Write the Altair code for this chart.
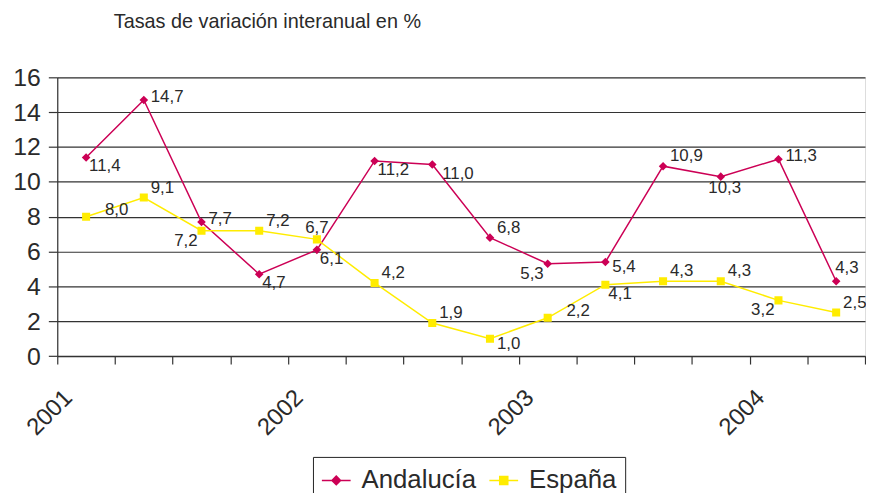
import json
import altair as alt
import pandas as pd

# ---------------- data ----------------
series_names = ["Andalucía", "España"]
andalucia = [11.4, 14.7, 7.7, 4.7, 6.1, 11.2, 11.0, 6.8, 5.3, 5.4, 10.9, 10.3, 11.3, 4.3]
espana = [8.0, 9.1, 7.2, 7.2, 6.7, 4.2, 1.9, 1.0, 2.2, 4.1, 4.3, 4.3, 3.2, 2.5]
x_tick_labels = ["2001", "", "", "", "2002", "", "", "", "2003", "", "", "", "2004", "", ""]
y_ticks = [0, 2, 4, 6, 8, 10, 12, 14, 16]
title_text = "Tasas de variación interanual en %"

# label placement codes (relative to each point)
and_label_pos = ["br", "r", "r", "br", "br", "br", "br2", "ar", "bl", "rb", "ar", "b", "r", "al"]
esp_label_pos = ["far", "ar", "bl", "ar", "a", "ar", "ar", "rb", "far", "br", "ar", "ar", "bl", "ar"]

# ---------------- styles ----------------
series_colors = ["#CC0055", "#FFEC00"]
marker_paths = [
    "M-1,0H1M0,-0.3L0.3,0L0,0.3L-0.3,0Z",
    "M-1,0H1M-0.28,-0.28H0.28V0.28H-0.28Z",
]
placements = {
    "r": dict(align="left", dx=7, dy=-3),
    "rb": dict(align="left", dx=7, dy=5),
    "br": dict(align="left", dx=3, dy=9),
    "br2": dict(align="left", dx=10, dy=10),
    "ar": dict(align="left", dx=7, dy=-10),
    "bl": dict(align="right", dx=-4, dy=10),
    "al": dict(align="left", dx=-1, dy=-13),
    "b": dict(align="center", dx=4, dy=12),
    "a": dict(align="center", dx=0, dy=-11),
    "far": dict(align="left", dx=19, dy=-7),
}
FONT = "Liberation Sans"
TXT = "#2a2a2a"

rows = []
for name, vals, pos in [(series_names[0], andalucia, and_label_pos),
                        (series_names[1], espana, esp_label_pos)]:
    for i, v in enumerate(vals):
        rows.append({"serie": name, "idx": i, "value": v,
                     "label": f"{v:.1f}".replace(".", ","), "place": pos[i]})
df = pd.DataFrame(rows)

base = alt.Chart(df).transform_calculate(pos="datum.idx + 0.5")

x_enc = alt.X(
    "pos:Q",
    scale=alt.Scale(domain=[0, len(andalucia)], nice=False, zero=False),
    axis=alt.Axis(
        values=list(range(len(x_tick_labels))),
        labelExpr=json.dumps(x_tick_labels) + "[datum.value]",
        title=None, grid=False, tickSize=8, tickColor="#333", domainColor="#333",
        tickWidth=1.2, domainWidth=1.2,
        labelAngle=315, labelAlign="right", labelBaseline="middle",
        labelOffset=11, labelPadding=30, labelFontSize=24, labelFont=FONT,
        labelColor=TXT, labelFlush=False, labelOverlap=False, labelBound=False,
    ),
)
y_enc = alt.Y(
    "value:Q",
    scale=alt.Scale(domain=[0, 16], nice=False, zero=True),
    axis=alt.Axis(
        values=y_ticks, title=None, grid=True, gridColor="#333", gridWidth=1.2,
        tickSize=9, tickColor="#333", domainColor="#333", tickWidth=1.2, domainWidth=1.2,
        labelFontSize=25, labelFont=FONT, labelColor=TXT, labelPadding=8,
        labelFlush=False, labelOverlap=False,
    ),
)

layers = []
for k in range(2):
    sub = base.transform_filter(alt.datum.serie == series_names[k])
    layers.append(sub.mark_line(color=series_colors[k], strokeWidth=1.5).encode(x=x_enc, y=y_enc))
for k in range(2):
    sub = base.transform_filter(alt.datum.serie == series_names[k])
    layers.append(
        sub.mark_point(filled=True, size=841, opacity=1, shape=marker_paths[k],
                       color=series_colors[k]).encode(x=x_enc, y=y_enc)
    )

for code, p in placements.items():
    layers.append(
        base.transform_filter(alt.datum.place == code)
        .mark_text(baseline="middle", fontSize=17, font=FONT, color=TXT, **p)
        .encode(x=x_enc, y=y_enc, text="label:N")
    )

leg = alt.Legend(
    title=None, orient="none", legendX=258, legendY=383, direction="horizontal",
    strokeColor="#222", fillColor="white", padding=8, cornerRadius=0,
    labelFontSize=26, labelFont=FONT, labelColor=TXT, labelOffset=10,
    columnPadding=10, symbolSize=841, symbolStrokeWidth=1.5,
)
legend_layer = alt.Chart(df).transform_filter("false").mark_point(
    filled=True, size=841, strokeWidth=1.5, opacity=1
).encode(
    fill=alt.Fill("serie:N", scale=alt.Scale(domain=series_names, range=series_colors), legend=leg),
    stroke=alt.Stroke("serie:N", scale=alt.Scale(domain=series_names, range=series_colors), legend=leg),
    shape=alt.Shape("serie:N", scale=alt.Scale(domain=series_names, range=marker_paths), legend=leg),
)
layers.append(legend_layer)

chart = alt.layer(*layers).properties(
    width=815, height=281.3,
    padding={"left": 49.7, "top": 67.7, "right": 1, "bottom": 151},
    autosize=alt.AutoSizeParams(type="none"),
    title=alt.TitleParams(
        title_text, anchor="start", frame="group", dx=57, offset=17.5,
        fontSize=20, font=FONT, fontWeight="normal", color=TXT, baseline="alphabetic",
    ),
).configure_view(stroke=None).configure(background="white")

chart.save("out.html", embed_options={"renderer": "svg", "actions": False})
